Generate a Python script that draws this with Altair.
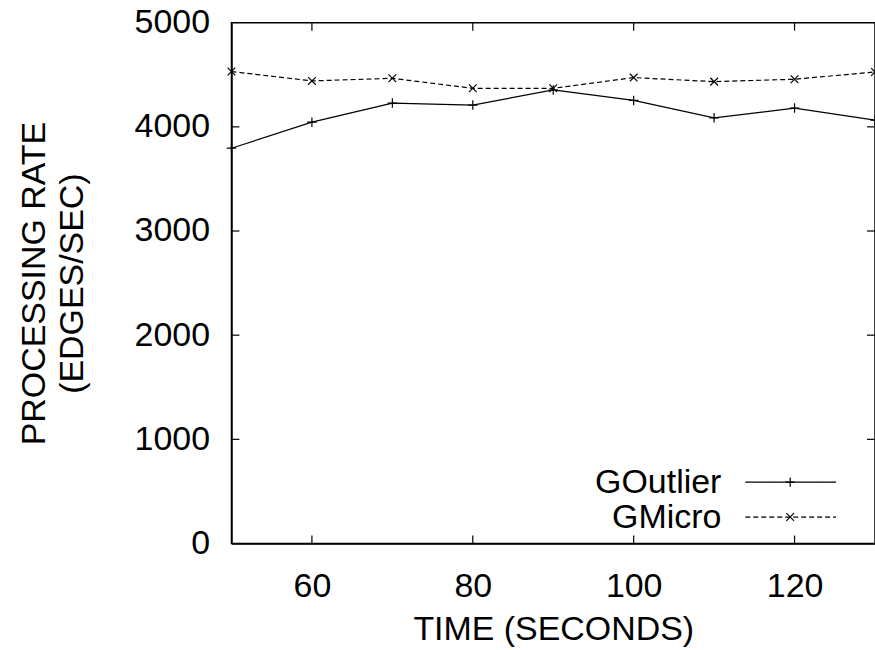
import altair as alt
import pandas as pd

# Measured processing rates (edges/sec) sampled every 10 seconds
time_s = [50, 60, 70, 80, 90, 100, 110, 120, 130]
goutlier = [3795, 4045, 4228, 4209, 4354, 4254, 4087, 4180, 4064]
gmicro = [4531, 4441, 4466, 4370, 4370, 4473, 4434, 4457, 4527]

series_names = ["GOutlier", "GMicro"]
x_ticks = [60, 80, 100, 120]
y_ticks = [0, 1000, 2000, 3000, 4000, 5000]
y_inner_ticks = [1000, 2000, 3000, 4000]

W, H = 645, 522
FONT = "Liberation Sans"
FS = 34
PLUS = "M-1,0L1,0M0,-1L0,1"
CROSS = "M-1,-1L1,1M-1,1L1,-1"

df = pd.DataFrame({
    "time": time_s * 2,
    "rate": goutlier + gmicro,
    "series": [series_names[0]] * len(time_s) + [series_names[1]] * len(time_s),
})

x_enc = alt.X(
    "time:Q",
    scale=alt.Scale(domain=[50, 130], nice=False, zero=False),
    axis=alt.Axis(
        values=x_ticks, ticks=False, grid=False, title="TIME (SECONDS)", format="d",
        labelFont=FONT, labelFontSize=FS, labelColor="black", labelPadding=26,
        labelBaseline="top",
        titleFont=FONT, titleFontSize=FS, titleFontWeight="normal", titleColor="black",
        titleBaseline="alphabetic", titleY=96, titleX=W / 2,
        domainColor="black", domainWidth=1.5, labelFlush=False,
    ),
)
y_enc = alt.Y(
    "rate:Q",
    scale=alt.Scale(domain=[0, 5000], nice=False),
    axis=alt.Axis(
        values=y_ticks, ticks=False, grid=False, format="d",
        title=["PROCESSING RATE", "(EDGES/SEC)"],
        labelFont=FONT, labelFontSize=FS, labelColor="black", labelPadding=22,
        titleFont=FONT, titleFontSize=FS, titleFontWeight="normal", titleColor="black",
        titleAngle=270, titleBaseline="alphabetic", titleLineHeight=38,
        titleX=-187, titleY=H / 2, titleAlign="center",
        domainColor="black", domainWidth=1.5, labelFlush=False,
    ),
)

base = alt.Chart(df)

line_out = base.transform_filter(alt.datum.series == series_names[0]).mark_line(
    color="black", strokeWidth=1.2
).encode(x=x_enc, y=y_enc)
line_mic = base.transform_filter(alt.datum.series == series_names[1]).mark_line(
    color="black", strokeWidth=1.2, strokeDash=[5, 3]
).encode(x="time:Q", y="rate:Q")
pts_out = base.transform_filter(alt.datum.series == series_names[0]).mark_point(
    shape=PLUS, filled=False, color="black", size=90, strokeWidth=1.2, opacity=1
).encode(x="time:Q", y="rate:Q")
pts_mic = base.transform_filter(alt.datum.series == series_names[1]).mark_point(
    shape=CROSS, filled=False, color="black", size=60, strokeWidth=1.2, opacity=1
).encode(x="time:Q", y="rate:Q")

# Inward-pointing tick marks on all four sides
xt = alt.Chart(pd.DataFrame({"t": x_ticks}))
yt = alt.Chart(pd.DataFrame({"v": y_inner_ticks}))
tick_style = dict(color="black", strokeWidth=1.2)
ticks_bottom = xt.mark_rule(**tick_style).encode(
    x="t:Q", y=alt.value(H), y2=alt.value(H - 8))
ticks_top = xt.mark_rule(**tick_style).encode(
    x="t:Q", y=alt.value(0), y2=alt.value(8))
ticks_left = yt.mark_rule(**tick_style).encode(
    y="v:Q", x=alt.value(0), x2=alt.value(8))
ticks_right = yt.mark_rule(**tick_style).encode(
    y="v:Q", x=alt.value(W - 8), x2=alt.value(W))

# Key in the lower right corner: label, line sample, marker
LX_TEXT, LX0, LX1, LXM = 723 - 232, 747 - 232, 838 - 232, 792 - 232
ROWS = [482.5 - 22, 517.5 - 22]

legend_layers = []
for name, row, dash, shape, size in [
    (series_names[0], ROWS[0], [1, 0], PLUS, 90),
    (series_names[1], ROWS[1], [5, 3], CROSS, 60),
]:
    one = alt.Chart(pd.DataFrame({"name": [name]}))
    legend_layers.append(one.mark_text(
        font=FONT, fontSize=FS, align="right", baseline="middle", color="black", dy=1
    ).encode(text="name:N", x=alt.value(LX_TEXT), y=alt.value(row)))
    legend_layers.append(one.mark_rule(
        color="black", strokeWidth=1.2, strokeDash=dash
    ).encode(x=alt.value(LX0), x2=alt.value(LX1), y=alt.value(row)))
    legend_layers.append(one.mark_point(
        shape=shape, filled=False, color="black", size=size, strokeWidth=1.2, opacity=1
    ).encode(x=alt.value(LXM), y=alt.value(row)))

chart = alt.layer(
    line_out, line_mic, pts_out, pts_mic,
    ticks_bottom, ticks_top, ticks_left, ticks_right,
    *legend_layers,
).properties(
    width=W, height=H,
    autosize=alt.AutoSizeParams(type="none"),
    padding={"left": 232, "top": 22, "right": 0, "bottom": 106},
    background="white",
).configure_view(stroke="black", strokeWidth=1.5)

chart.save("out.html", embed_options={"renderer": "svg", "actions": False})
